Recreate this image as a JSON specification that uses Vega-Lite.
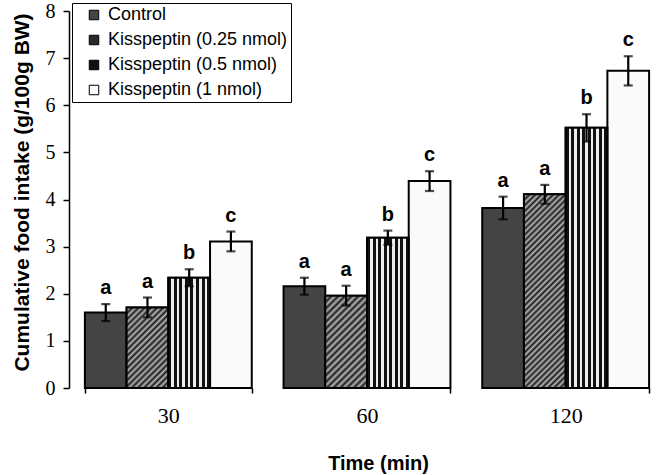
{
  "$schema": "https://vega.github.io/schema/vega-lite/v6.json",
  "width": 596,
  "height": 377,
  "autosize": {"type": "none"},
  "padding": {"left": 69, "top": 11, "right": 1, "bottom": 87},
  "background": "white",
  "config": {
    "view": {"stroke": null},
    "axis": {"grid": false, "domainColor": "#000", "tickColor": "#000", "labelColor": "#000", "titleColor": "#000"},
    "scale": {"offsetBandPaddingInner": 0, "offsetBandPaddingOuter": 0}
  },
  "data": {
    "values": [
      {"time": "30", "group": "Control", "mean": 1.60, "lo": 1.42, "hi": 1.78, "sig": "a"},
      {"time": "30", "group": "Kisspeptin (0.25 nmol)", "mean": 1.71, "lo": 1.50, "hi": 1.92, "sig": "a"},
      {"time": "30", "group": "Kisspeptin (0.5 nmol)", "mean": 2.34, "lo": 2.16, "hi": 2.52, "sig": "b"},
      {"time": "30", "group": "Kisspeptin (1 nmol)", "mean": 3.11, "lo": 2.90, "hi": 3.32, "sig": "c"},
      {"time": "60", "group": "Control", "mean": 2.16, "lo": 1.98, "hi": 2.34, "sig": "a"},
      {"time": "60", "group": "Kisspeptin (0.25 nmol)", "mean": 1.96, "lo": 1.75, "hi": 2.17, "sig": "a"},
      {"time": "60", "group": "Kisspeptin (0.5 nmol)", "mean": 3.19, "lo": 3.04, "hi": 3.34, "sig": "b"},
      {"time": "60", "group": "Kisspeptin (1 nmol)", "mean": 4.39, "lo": 4.18, "hi": 4.60, "sig": "c"},
      {"time": "120", "group": "Control", "mean": 3.82, "lo": 3.58, "hi": 4.06, "sig": "a"},
      {"time": "120", "group": "Kisspeptin (0.25 nmol)", "mean": 4.11, "lo": 3.91, "hi": 4.31, "sig": "a"},
      {"time": "120", "group": "Kisspeptin (0.5 nmol)", "mean": 5.52, "lo": 5.23, "hi": 5.81, "sig": "b"},
      {"time": "120", "group": "Kisspeptin (1 nmol)", "mean": 6.73, "lo": 6.42, "hi": 7.04, "sig": "c"}
    ]
  },
  "encoding": {
    "x": {
      "field": "time",
      "type": "nominal",
      "sort": ["30", "60", "120"],
      "scale": {"paddingInner": 0.16, "paddingOuter": 0.08},
      "axis": {
        "title": "Time (min)",
        "titleFont": "Liberation Sans",
        "titleFontSize": 20,
        "titleFontWeight": "bold",
        "titleX": 309,
        "titleY": 75,
        "titleBaseline": "middle",
        "labelAngle": 0,
        "labelFont": "Liberation Serif",
        "labelFontSize": 22,
        "labelPadding": 12,
        "domain": false,
        "tickBand": "extent",
        "tickSize": 5,
        "tickWidth": 1.5
      }
    },
    "xOffset": {
      "field": "group",
      "type": "nominal",
      "sort": ["Control", "Kisspeptin (0.25 nmol)", "Kisspeptin (0.5 nmol)", "Kisspeptin (1 nmol)"]
    }
  },
  "layer": [
    {
      "mark": {"type": "bar", "stroke": "#000", "strokeWidth": 2},
      "encoding": {
        "y": {
          "field": "mean",
          "type": "quantitative",
          "scale": {"domain": [0, 8], "nice": false},
          "axis": {
            "values": [0, 1, 2, 3, 4, 5, 6, 7, 8],
            "title": "Cumulative food intake (g/100g BW)",
            "titleFont": "Liberation Sans",
            "titleFontSize": 21,
            "titleFontWeight": "bold",
            "titleX": -47,
            "titleY": 181,
            "titleBaseline": "middle",
            "labelFont": "Liberation Serif",
            "labelFontSize": 20,
            "labelPadding": 8,
            "tickSize": 6,
            "tickWidth": 1.5,
            "domainWidth": 1.5
          }
        },
        "fill": {
          "field": "group",
          "type": "nominal",
          "sort": ["Control", "Kisspeptin (0.25 nmol)", "Kisspeptin (0.5 nmol)", "Kisspeptin (1 nmol)"],
          "scale": {"range": ["#444444", "#2a2a2a", "#111111", "#fafafa"]},
          "legend": {
            "title": null,
            "orient": "none",
            "legendX": 3,
            "legendY": -8,
            "strokeColor": "#000",
            "padding": 3,
            "symbolType": "square",
            "symbolSize": 90,
            "symbolStrokeColor": "#000",
            "symbolStrokeWidth": 1,
            "symbolOffset": 10,
            "labelOffset": 5,
            "labelFont": "Liberation Sans",
            "labelFontSize": 18,
            "labelColor": "#000",
            "labelLimit": 400,
            "rowPadding": 7
          }
        }
      }
    },
    {
      "transform": [{"filter": "datum.group === 'Kisspeptin (0.25 nmol)'"}],
      "mark": {"type": "bar", "stroke": "#000", "strokeWidth": 2},
      "encoding": {
        "y": {"field": "mean", "type": "quantitative"},
        "fill": {
          "condition": [
            {
              "test": "datum.time === '30'",
              "value": {
                "gradient": "linear", "x1": 0, "y1": 0, "x2": 0.6167, "y2": 1.1976,
                "stops": [
                  {"offset": 0, "color": "#1c1c1c"}, {"offset": 0.025, "color": "#b4b4b4"}, {"offset": 0.05, "color": "#1c1c1c"}, {"offset": 0.075, "color": "#b4b4b4"},
                  {"offset": 0.1, "color": "#1c1c1c"}, {"offset": 0.125, "color": "#b4b4b4"}, {"offset": 0.15, "color": "#1c1c1c"}, {"offset": 0.175, "color": "#b4b4b4"},
                  {"offset": 0.2, "color": "#1c1c1c"}, {"offset": 0.225, "color": "#b4b4b4"}, {"offset": 0.25, "color": "#1c1c1c"}, {"offset": 0.275, "color": "#b4b4b4"},
                  {"offset": 0.3, "color": "#1c1c1c"}, {"offset": 0.325, "color": "#b4b4b4"}, {"offset": 0.35, "color": "#1c1c1c"}, {"offset": 0.375, "color": "#b4b4b4"},
                  {"offset": 0.4, "color": "#1c1c1c"}, {"offset": 0.425, "color": "#b4b4b4"}, {"offset": 0.45, "color": "#1c1c1c"}, {"offset": 0.475, "color": "#b4b4b4"},
                  {"offset": 0.5, "color": "#1c1c1c"}, {"offset": 0.525, "color": "#b4b4b4"}, {"offset": 0.55, "color": "#1c1c1c"}, {"offset": 0.575, "color": "#b4b4b4"},
                  {"offset": 0.6, "color": "#1c1c1c"}, {"offset": 0.625, "color": "#b4b4b4"}, {"offset": 0.65, "color": "#1c1c1c"}, {"offset": 0.675, "color": "#b4b4b4"},
                  {"offset": 0.7, "color": "#1c1c1c"}, {"offset": 0.725, "color": "#b4b4b4"}, {"offset": 0.75, "color": "#1c1c1c"}, {"offset": 0.775, "color": "#b4b4b4"},
                  {"offset": 0.8, "color": "#1c1c1c"}, {"offset": 0.825, "color": "#b4b4b4"}, {"offset": 0.85, "color": "#1c1c1c"}, {"offset": 0.875, "color": "#b4b4b4"},
                  {"offset": 0.9, "color": "#1c1c1c"}, {"offset": 0.925, "color": "#b4b4b4"}, {"offset": 0.95, "color": "#1c1c1c"}, {"offset": 0.975, "color": "#b4b4b4"},
                  {"offset": 1, "color": "#1c1c1c"}
                ]
              }
            },
            {
              "test": "datum.time === '60'",
              "value": {
                "gradient": "linear", "x1": 0, "y1": 0, "x2": 0.5415, "y2": 1.206,
                "stops": [
                  {"offset": 0, "color": "#1c1c1c"}, {"offset": 0.025, "color": "#b4b4b4"}, {"offset": 0.05, "color": "#1c1c1c"}, {"offset": 0.075, "color": "#b4b4b4"},
                  {"offset": 0.1, "color": "#1c1c1c"}, {"offset": 0.125, "color": "#b4b4b4"}, {"offset": 0.15, "color": "#1c1c1c"}, {"offset": 0.175, "color": "#b4b4b4"},
                  {"offset": 0.2, "color": "#1c1c1c"}, {"offset": 0.225, "color": "#b4b4b4"}, {"offset": 0.25, "color": "#1c1c1c"}, {"offset": 0.275, "color": "#b4b4b4"},
                  {"offset": 0.3, "color": "#1c1c1c"}, {"offset": 0.325, "color": "#b4b4b4"}, {"offset": 0.35, "color": "#1c1c1c"}, {"offset": 0.375, "color": "#b4b4b4"},
                  {"offset": 0.4, "color": "#1c1c1c"}, {"offset": 0.425, "color": "#b4b4b4"}, {"offset": 0.45, "color": "#1c1c1c"}, {"offset": 0.475, "color": "#b4b4b4"},
                  {"offset": 0.5, "color": "#1c1c1c"}, {"offset": 0.525, "color": "#b4b4b4"}, {"offset": 0.55, "color": "#1c1c1c"}, {"offset": 0.575, "color": "#b4b4b4"},
                  {"offset": 0.6, "color": "#1c1c1c"}, {"offset": 0.625, "color": "#b4b4b4"}, {"offset": 0.65, "color": "#1c1c1c"}, {"offset": 0.675, "color": "#b4b4b4"},
                  {"offset": 0.7, "color": "#1c1c1c"}, {"offset": 0.725, "color": "#b4b4b4"}, {"offset": 0.75, "color": "#1c1c1c"}, {"offset": 0.775, "color": "#b4b4b4"},
                  {"offset": 0.8, "color": "#1c1c1c"}, {"offset": 0.825, "color": "#b4b4b4"}, {"offset": 0.85, "color": "#1c1c1c"}, {"offset": 0.875, "color": "#b4b4b4"},
                  {"offset": 0.9, "color": "#1c1c1c"}, {"offset": 0.925, "color": "#b4b4b4"}, {"offset": 0.95, "color": "#1c1c1c"}, {"offset": 0.975, "color": "#b4b4b4"},
                  {"offset": 1, "color": "#1c1c1c"}
                ]
              }
            }
          ],
          "value": {
            "gradient": "linear", "x1": 0, "y1": 0, "x2": 0.2487, "y2": 1.1609,
            "stops": [
              {"offset": 0, "color": "#1c1c1c"}, {"offset": 0.0125, "color": "#b4b4b4"}, {"offset": 0.025, "color": "#1c1c1c"}, {"offset": 0.0375, "color": "#b4b4b4"},
              {"offset": 0.05, "color": "#1c1c1c"}, {"offset": 0.0625, "color": "#b4b4b4"}, {"offset": 0.075, "color": "#1c1c1c"}, {"offset": 0.0875, "color": "#b4b4b4"},
              {"offset": 0.1, "color": "#1c1c1c"}, {"offset": 0.1125, "color": "#b4b4b4"}, {"offset": 0.125, "color": "#1c1c1c"}, {"offset": 0.1375, "color": "#b4b4b4"},
              {"offset": 0.15, "color": "#1c1c1c"}, {"offset": 0.1625, "color": "#b4b4b4"}, {"offset": 0.175, "color": "#1c1c1c"}, {"offset": 0.1875, "color": "#b4b4b4"},
              {"offset": 0.2, "color": "#1c1c1c"}, {"offset": 0.2125, "color": "#b4b4b4"}, {"offset": 0.225, "color": "#1c1c1c"}, {"offset": 0.2375, "color": "#b4b4b4"},
              {"offset": 0.25, "color": "#1c1c1c"}, {"offset": 0.2625, "color": "#b4b4b4"}, {"offset": 0.275, "color": "#1c1c1c"}, {"offset": 0.2875, "color": "#b4b4b4"},
              {"offset": 0.3, "color": "#1c1c1c"}, {"offset": 0.3125, "color": "#b4b4b4"}, {"offset": 0.325, "color": "#1c1c1c"}, {"offset": 0.3375, "color": "#b4b4b4"},
              {"offset": 0.35, "color": "#1c1c1c"}, {"offset": 0.3625, "color": "#b4b4b4"}, {"offset": 0.375, "color": "#1c1c1c"}, {"offset": 0.3875, "color": "#b4b4b4"},
              {"offset": 0.4, "color": "#1c1c1c"}, {"offset": 0.4125, "color": "#b4b4b4"}, {"offset": 0.425, "color": "#1c1c1c"}, {"offset": 0.4375, "color": "#b4b4b4"},
              {"offset": 0.45, "color": "#1c1c1c"}, {"offset": 0.4625, "color": "#b4b4b4"}, {"offset": 0.475, "color": "#1c1c1c"}, {"offset": 0.4875, "color": "#b4b4b4"},
              {"offset": 0.5, "color": "#1c1c1c"}, {"offset": 0.5125, "color": "#b4b4b4"}, {"offset": 0.525, "color": "#1c1c1c"}, {"offset": 0.5375, "color": "#b4b4b4"},
              {"offset": 0.55, "color": "#1c1c1c"}, {"offset": 0.5625, "color": "#b4b4b4"}, {"offset": 0.575, "color": "#1c1c1c"}, {"offset": 0.5875, "color": "#b4b4b4"},
              {"offset": 0.6, "color": "#1c1c1c"}, {"offset": 0.6125, "color": "#b4b4b4"}, {"offset": 0.625, "color": "#1c1c1c"}, {"offset": 0.6375, "color": "#b4b4b4"},
              {"offset": 0.65, "color": "#1c1c1c"}, {"offset": 0.6625, "color": "#b4b4b4"}, {"offset": 0.675, "color": "#1c1c1c"}, {"offset": 0.6875, "color": "#b4b4b4"},
              {"offset": 0.7, "color": "#1c1c1c"}, {"offset": 0.7125, "color": "#b4b4b4"}, {"offset": 0.725, "color": "#1c1c1c"}, {"offset": 0.7375, "color": "#b4b4b4"},
              {"offset": 0.75, "color": "#1c1c1c"}, {"offset": 0.7625, "color": "#b4b4b4"}, {"offset": 0.775, "color": "#1c1c1c"}, {"offset": 0.7875, "color": "#b4b4b4"},
              {"offset": 0.8, "color": "#1c1c1c"}, {"offset": 0.8125, "color": "#b4b4b4"}, {"offset": 0.825, "color": "#1c1c1c"}, {"offset": 0.8375, "color": "#b4b4b4"},
              {"offset": 0.85, "color": "#1c1c1c"}, {"offset": 0.8625, "color": "#b4b4b4"}, {"offset": 0.875, "color": "#1c1c1c"}, {"offset": 0.8875, "color": "#b4b4b4"},
              {"offset": 0.9, "color": "#1c1c1c"}, {"offset": 0.9125, "color": "#b4b4b4"}, {"offset": 0.925, "color": "#1c1c1c"}, {"offset": 0.9375, "color": "#b4b4b4"},
              {"offset": 0.95, "color": "#1c1c1c"}, {"offset": 0.9625, "color": "#b4b4b4"}, {"offset": 0.975, "color": "#1c1c1c"}, {"offset": 0.9875, "color": "#b4b4b4"},
              {"offset": 1, "color": "#1c1c1c"}
            ]
          }
        }
      }
    },
    {
      "transform": [{"filter": "datum.group === 'Kisspeptin (0.5 nmol)'"}],
      "mark": {
        "type": "bar",
        "stroke": "#000",
        "strokeWidth": 2,
        "fill": {
          "gradient": "linear", "x1": 0, "y1": 0, "x2": 1, "y2": 0,
          "stops": [
            {"offset": 0, "color": "#111"}, {"offset": 0.0725, "color": "#111"}, {"offset": 0.0725, "color": "#eee"}, {"offset": 0.1325, "color": "#eee"},
            {"offset": 0.1325, "color": "#111"}, {"offset": 0.205, "color": "#111"}, {"offset": 0.205, "color": "#eee"}, {"offset": 0.265, "color": "#eee"},
            {"offset": 0.265, "color": "#111"}, {"offset": 0.3375, "color": "#111"}, {"offset": 0.3375, "color": "#eee"}, {"offset": 0.3975, "color": "#eee"},
            {"offset": 0.3975, "color": "#111"}, {"offset": 0.47, "color": "#111"}, {"offset": 0.47, "color": "#eee"}, {"offset": 0.53, "color": "#eee"},
            {"offset": 0.53, "color": "#111"}, {"offset": 0.6025, "color": "#111"}, {"offset": 0.6025, "color": "#eee"}, {"offset": 0.6625, "color": "#eee"},
            {"offset": 0.6625, "color": "#111"}, {"offset": 0.735, "color": "#111"}, {"offset": 0.735, "color": "#eee"}, {"offset": 0.795, "color": "#eee"},
            {"offset": 0.795, "color": "#111"}, {"offset": 0.8675, "color": "#111"}, {"offset": 0.8675, "color": "#eee"}, {"offset": 0.9275, "color": "#eee"},
            {"offset": 0.9275, "color": "#111"}, {"offset": 1, "color": "#111"}
          ]
        }
      },
      "encoding": {"y": {"field": "mean", "type": "quantitative"}}
    },
    {
      "mark": {"type": "rule", "color": "#000", "strokeWidth": 2.2},
      "encoding": {
        "y": {"field": "lo", "type": "quantitative"},
        "y2": {"field": "hi"}
      }
    },
    {
      "mark": {"type": "tick", "color": "#000", "orient": "horizontal", "size": 9, "thickness": 2.2},
      "encoding": {"y": {"field": "hi", "type": "quantitative"}}
    },
    {
      "mark": {"type": "tick", "color": "#000", "orient": "horizontal", "size": 9, "thickness": 2.2},
      "encoding": {"y": {"field": "lo", "type": "quantitative"}}
    },
    {
      "mark": {"type": "text", "font": "Liberation Sans", "fontSize": 20, "fontWeight": "bold", "color": "#000", "baseline": "alphabetic", "dy": -10},
      "encoding": {
        "y": {"field": "hi", "type": "quantitative"},
        "text": {"field": "sig"}
      }
    }
  ]
}
